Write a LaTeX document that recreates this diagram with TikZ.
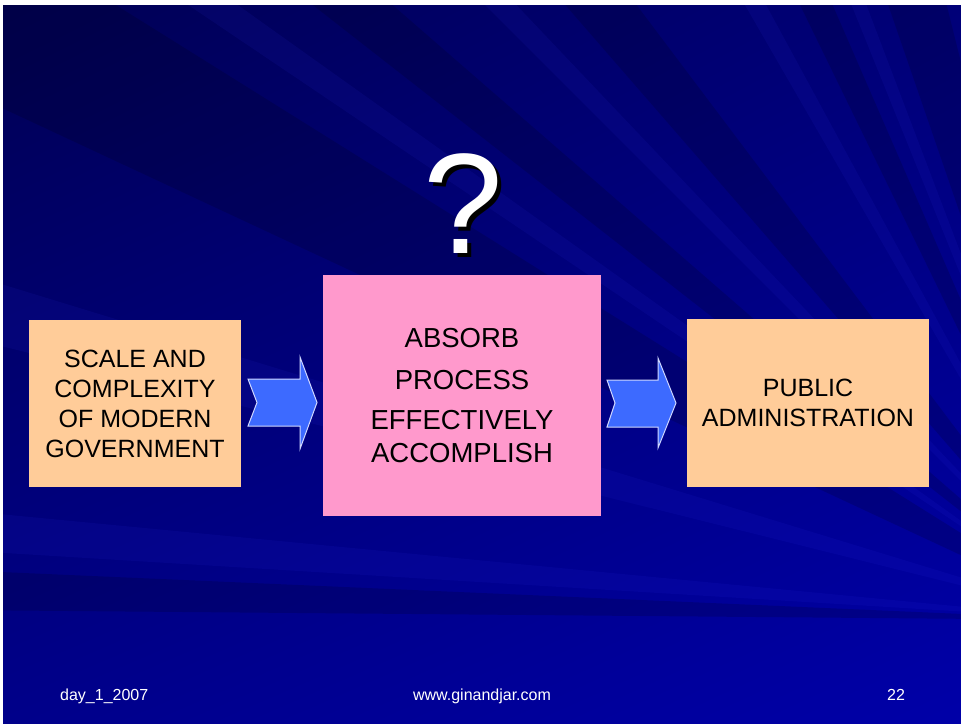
\documentclass[tikz,border=0pt]{standalone}
\usepackage{fontspec}
\setmainfont{Liberation Sans}
\usetikzlibrary{calc,shadings}
\definecolor{peach}{HTML}{FFCC99}
\definecolor{pinkbox}{HTML}{FF99CC}
\definecolor{arrowblue}{HTML}{3D6AFF}
\definecolor{arrowedge}{HTML}{D0D8FF}
\definecolor{streaklight}{HTML}{3A3AFF}
\definecolor{bgul}{HTML}{000054}
\definecolor{bgur}{HTML}{000078}
\definecolor{bgll}{HTML}{00008A}
\definecolor{bglr}{HTML}{0000A8}
\begin{document}
\begin{tikzpicture}[x=1pt,y=-1pt,
  boxtext/.style={font=\fontsize{25}{30}\selectfont, align=center, text=black, inner sep=0pt},
  sidebox/.style={boxtext, fill=peach, minimum width=212pt, minimum height=167pt},
  blockarrow/.style={fill=arrowblue, draw=arrowedge, line width=1pt, line join=miter},
  darkstreak/.style={fill=black, opacity=0.15},
  lightstreak/.style={fill=streaklight, opacity=0.08},
  foot/.style={font=\fontsize{16}{18}\selectfont, text=white, inner sep=0pt, anchor=base}]
\useasboundingbox (0,0) rectangle (961,723);
\fill[white] (0,0) rectangle (961,723);
% background
\begin{scope}
\clip (3,5) rectangle (961,723);
\shade[upper left=bgul, upper right=bgur, lower left=bgll, lower right=bglr]
  (3,5) rectangle (961,723);
\coordinate (C) at (1100,620);
\foreach \a/\b in {180.5/182.5, 205/212, 218/221, 229/233, 244/246.5, 251/256, 262/265, 270/274}
  \fill[darkstreak] (C) -- +(\a:1700) -- +(\b:1700) -- cycle;
\foreach \a/\b in {183.5/185.5, 194/197, 214/215.5, 225/226.5, 240/241.5, 248/249.2, 258/259.5, 267/268.5}
  \fill[lightstreak] (C) -- +(\a:1700) -- +(\b:1700) -- cycle;
\end{scope}
% boxes
\node[sidebox] (scale) at (135,403.5) {SCALE AND\\COMPLEXITY\\OF MODERN\\GOVERNMENT};
\node[boxtext, fill=pinkbox, minimum width=278pt, minimum height=241pt, font=\fontsize{27.5}{33}\selectfont]
  (absorb) at (462,395.5) {ABSORB\\[9pt]PROCESS\\[7pt]EFFECTIVELY\\ACCOMPLISH};
\node[sidebox, minimum width=242pt, minimum height=168pt] (public) at (808,403) {PUBLIC\\ADMINISTRATION};
% block arrows
\draw[blockarrow] (248,379) -- (300,379) -- (300,357) -- (317,402.5) -- (300,449) -- (300,426)
  -- (248,426) -- (257,402.5) -- cycle;
\draw[blockarrow] (607,380) -- (658,380) -- (658,358) -- (676,403) -- (658,448) -- (658,427)
  -- (607,427) -- (615,403) -- cycle;
% question mark with drop shadow
\node[font=\fontsize{143}{150}\selectfont, inner sep=0pt, anchor=base] (qmark) at (463,253)
  {\makebox[0pt][l]{\hspace{4pt}\raisebox{-4pt}{\color{black}?}}\color{white}?};
% footer
\node[foot, anchor=base west] (date) at (60,700) {day\_1\_2007};
\node[foot] (site) at (482,700) {www.ginandjar.com};
\node[foot] (page) at (896,700) {22};
\end{tikzpicture}
\end{document}
